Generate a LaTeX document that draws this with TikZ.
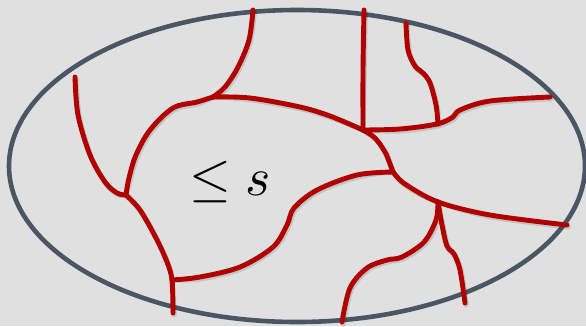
\documentclass[tikz,border=0pt]{standalone}
\usepackage{bm}
\definecolor{bgc}{HTML}{E0E0E0}
\definecolor{slate}{HTML}{4A5664}
\definecolor{wred}{HTML}{B00000}
\tikzset{
  wall/.style={draw=wred, line width=4.9bp, line cap=round, line join=round},
  shade/.style={draw=black, opacity=0.12, line width=5.3bp, line cap=round, line join=round},
  rim/.style={draw=slate, line width=4.6bp},
}
\newcommand{\wallpath}[1]{%
  \draw[shade, shift={(1.2,1.8)}] plot[smooth, tension=0.55] coordinates {#1};
  \draw[wall] plot[smooth, tension=0.55] coordinates {#1};}
\begin{document}
\begin{tikzpicture}[x=1bp,y=-1bp]
\fill[bgc] (0,0) rectangle (586,326);
\useasboundingbox (0,0) rectangle (586,326);
\draw[rim] (297,166) ellipse [x radius=288, y radius=156];
% junctions
\coordinate (J1) at (126,195);
\coordinate (J2) at (213,97);
\coordinate (J3) at (363,130);
\coordinate (J4) at (393,172);
\coordinate (J5) at (438,202);
\coordinate (J6) at (172,280);
\coordinate (J7) at (438,124);
% A
\wallpath{(75,77) (78,115) (90,155) (105,182) (117,193) (J1)}
% B
\wallpath{(J1) (129,178) (136,155) (150,130) (173,108) (197,102) (J2)}
% C
\wallpath{(253,10) (249,40) (238,67) (225,87) (J2)}
% D
\wallpath{(J2) (250,98) (300,107) (330,116) (J3)}
% E
\wallpath{(364,10) (363,70) (J3)}
% F
\wallpath{(J3) (400,129) (437,124) (453,117) (460,110) (490,101) (550,97)}
% G
\wallpath{(406,23) (408,50) (415,66) (423,73) (430,83) (436,105) (J7)}
% H
\wallpath{(J3) (375,138) (385,152) (390,164) (J4)}
% I
\wallpath{(J4) (357,175) (317,190) (294,208) (287,225) (273,247) (240,267) (200,277) (J6)}
% K
\wallpath{(J1) (140,210) (156,238) (167,262) (J6) (173,313)}
% L
\wallpath{(J4) (405,184) (J5) (490,215) (567,225)}
% M
\wallpath{(J5) (436,220) (424,242) (402,257) (387,260) (367,268) (350,288) (342,322)}
% N
\wallpath{(J5) (442,225) (447,246) (454,254) (460,270) (465,303)}
\node[anchor=base, text=black, inner sep=0pt, scale=5.4] (lbl) at (230,195) {$\leq s$};
\end{tikzpicture}
\end{document}
